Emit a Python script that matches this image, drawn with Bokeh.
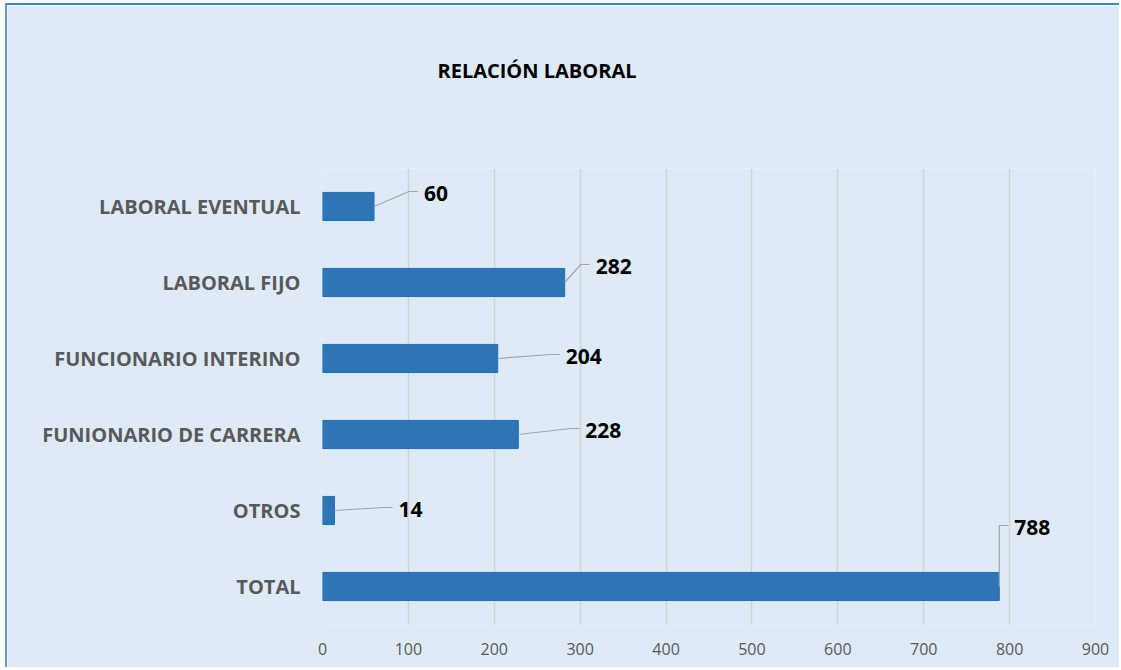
from bokeh.plotting import figure
from bokeh.models import Range1d, Title, ColumnDataSource, FixedTicker
from bokeh.core.properties import value
from bokeh.embed import file_html
from bokeh.resources import INLINE

# ---- data (bottom to top) ----
categories = ["TOTAL", "OTROS", "FUNIONARIO DE CARRERA", "FUNCIONARIO INTERINO",
              "LABORAL FIJO", "LABORAL EVENTUAL"]
counts = [788, 14, 228, 204, 282, 60]
x_ticks = [0, 100, 200, 300, 400, 500, 600, 700, 800, 900]
title_text = "RELACIÓN LABORAL"

# ---- label leader offsets in screen pixels (style) ----
leader_dx = [0, 49, 52, 53, 16, 35]
leader_dy = [-61, -3, -6, -4, -18, -15]
LEADER_TAIL = 9
LABEL_GAP = 6

W, H = 1114, 664
FRAME_L, FRAME_T, FRAME_W, FRAME_H = 315, 163, 773, 456
XMAX = 900
N = len(categories)
YMAX = 2 * N
SX = FRAME_W / XMAX
SY = FRAME_H / YMAX

BG = "#DEEAF6"
BAR = "#2E75B6"
FONT = "Open Sans"

ypos = [2 * i + 1 for i in range(N)]

p = figure(width=W, height=H, output_backend="svg", toolbar_location=None,
           y_range=Range1d(0, YMAX), x_range=Range1d(0, XMAX),
           min_border_left=FRAME_L, min_border_top=FRAME_T,
           min_border_right=W - FRAME_L - FRAME_W,
           min_border_bottom=H - FRAME_T - FRAME_H)
p.background_fill_color = BG
p.border_fill_color = BG
p.outline_line_color = None
p.styles = {"border-top": "2px solid #3A84C8", "border-left": "2px solid #5B9BD5",
            "border-right": "none", "border-bottom": "none",
            "margin-left": "5px", "margin-top": "3px"}

p.hbar(y=ypos, right=counts, left=0, height=0.74,
       fill_color=BAR, line_color="#1F70C1", line_width=1)

# leaders and labels
xs, ys, lx, ly, txt = [], [], [], [], []
for i, v in enumerate(counts):
    c = ypos[i]
    x1 = v + leader_dx[i] / SX
    y1 = c - leader_dy[i] / SY
    x2 = x1 + LEADER_TAIL / SX
    xs.append([v, x1, x2])
    ys.append([c, y1, y1])
    lx.append(x2 + LABEL_GAP / SX)
    ly.append(y1 - 1.5 / SY)
    txt.append(str(v))

p.multi_line(xs=xs, ys=ys, line_color="#A6A6A6", line_width=1.2)
src = ColumnDataSource(dict(x=lx, y=ly, t=txt))
p.text(x="x", y="y", text="t", source=src,
       text_font=value(FONT), text_font_style="bold", text_font_size="21px",
       text_color="black", text_align="left", text_baseline="middle")

# title (trailing blank lines lift it to the reference height)
p.add_layout(Title(text=title_text + "\n \n ", align="left", offset=437 - 322,
                   standoff=40, text_line_height=1.2,
                   text_font=FONT, text_font_style="bold", text_font_size="20px",
                   text_color="black"), "above")

# axes
p.xaxis.ticker = FixedTicker(ticks=x_ticks)
p.xaxis.axis_line_color = None
p.xaxis.major_tick_line_color = None
p.xaxis.minor_tick_line_color = None
p.xaxis.major_label_text_font = FONT
p.xaxis.major_label_text_font_size = "16px"
p.xaxis.major_label_text_color = "#595959"
p.xaxis.major_label_standoff = 12

p.yaxis.ticker = FixedTicker(ticks=ypos)
p.yaxis.major_label_overrides = {y: c for y, c in zip(ypos, categories)}
p.yaxis.axis_line_color = None
p.yaxis.major_tick_line_color = None
p.yaxis.minor_tick_line_color = None
p.yaxis.major_label_text_font = FONT
p.yaxis.major_label_text_font_style = "bold"
p.yaxis.major_label_text_font_size = "20px"
p.yaxis.major_label_text_color = "#595959"
p.yaxis.major_label_standoff = 16

p.xgrid.grid_line_color = "#D3D3D3"
p.xgrid.grid_line_width = 1.5
p.ygrid.grid_line_color = None

open("out.html", "w").write(file_html(p, INLINE))
